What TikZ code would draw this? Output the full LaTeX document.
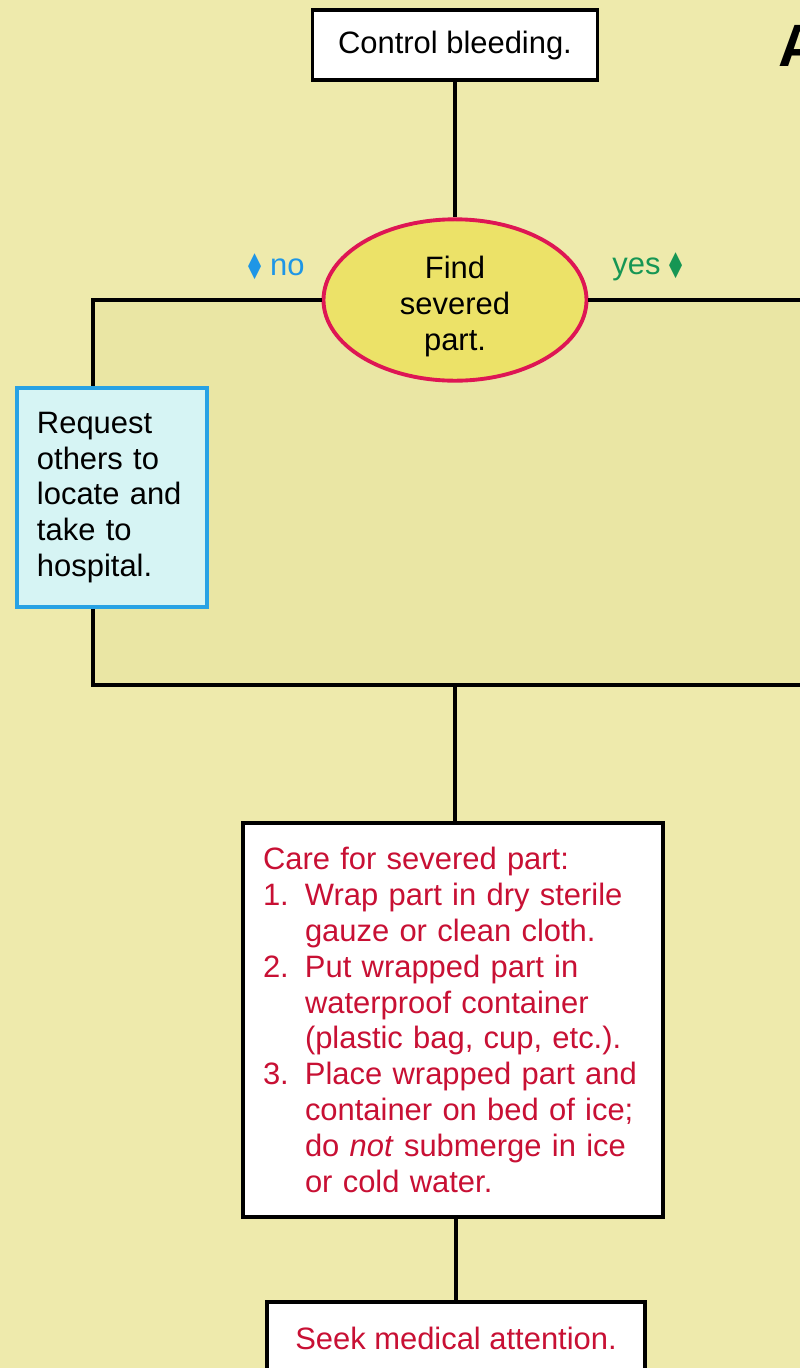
\documentclass[tikz,border=0pt]{standalone}
\usepackage{fontspec}
\setmainfont{Liberation Sans}
\newfontfamily\symfont{DejaVu Sans}
\usetikzlibrary{positioning,shapes.geometric}

\definecolor{bgyellow}{RGB}{238,234,172}
\definecolor{panelyellow}{RGB}{234,230,164}
\definecolor{findfill}{RGB}{236,226,104}
\definecolor{findline}{RGB}{222,22,84}
\definecolor{reqline}{RGB}{40,162,228}
\definecolor{reqfill}{RGB}{214,244,244}
\definecolor{caretext}{RGB}{200,16,52}
\definecolor{noblue}{RGB}{30,150,230}
\definecolor{yesgreen}{RGB}{22,150,84}

\begin{document}
\begin{tikzpicture}[
        font=\fontsize{8.8}{10.2}\selectfont,
        stepbox/.style={draw, rectangle, line width=1.1pt, fill=white, inner sep=0pt, align=center},
        decision/.style={draw=findline, ellipse, line width=1.1pt, fill=findfill, minimum width=2.63cm, minimum height=1.6cm, inner sep=0pt, align=center},
        link/.style={line width=1pt}
    ]
        \useasboundingbox (0,0) rectangle (8,-13.68);
        \clip (0,0) rectangle (8,-13.68);
        \fill[bgyellow] (0,0) rectangle (8,-13.68);

        % Search panel
        \fill[panelyellow] (0.93,-3.0) rectangle (8,-6.85);
        \coordinate (cornerL) at (0.93,-3.0);
        \coordinate (exitR) at (8,-3.0);
        \coordinate (joinL) at (0.93,-6.85);
        \coordinate (joinR) at (8,-6.85);
        \coordinate (merge) at (4.55,-6.85);

        % Steps
        \node[stepbox, minimum width=2.85cm, minimum height=0.7cm] (bleed) at (4.55,-0.45) {Control bleeding.};
        \node[decision] (find) at (4.55,-3.0) {\rule{0pt}{3.6mm}Find\\severed\\part.};
        \node[stepbox, draw=reqline, fill=reqfill, minimum width=1.9cm, minimum height=2.19cm, text width=1.5cm, align=left] (request) at (1.12,-4.975) {Request others to locate and take to hospital.};
        \node[stepbox, minimum width=4.2cm, minimum height=3.94cm, text width=3.8cm, align=left, text=caretext] (care) at (4.53,-10.2) {Care for severed part:\\
            \makebox[0.42cm][l]{1.}Wrap part in dry sterile\\
            \hspace*{0.42cm}gauze or clean cloth.\\
            \makebox[0.42cm][l]{2.}Put wrapped part in\\
            \hspace*{0.42cm}waterproof container\\
            \hspace*{0.42cm}(plastic bag, cup, etc.).\\
            \makebox[0.42cm][l]{3.}Place wrapped part and\\
            \hspace*{0.42cm}container on bed of ice;\\
            \hspace*{0.42cm}do \textit{not} submerge in ice\\
            \hspace*{0.42cm}or cold water.};
        \node[stepbox, minimum width=3.78cm, anchor=north, text=caretext, text height=0.48cm, text depth=0.6cm] (seek) at (4.56,-13.0) {Seek medical attention.};

        % Branch labels
        \node[text=noblue, anchor=east] (nolbl) at (3.17,-2.67) {{\symfont\scalebox{0.55}[1.1]{◆}} no};
        \node[text=yesgreen, anchor=west] (yeslbl) at (6.0,-2.67) {yes {\symfont\scalebox{0.55}[1.1]{◆}}};

        % Title, cut at the edge
        \node[anchor=west, font=\fontsize{17}{17}\selectfont\bfseries] (title) at (7.66,-0.46) {A};

        % Connectors
        \draw[link] (bleed) -- (find);
        \draw[link] (find.west) -- (cornerL) -- (cornerL |- request.north);
        \draw[link] (find.east) -- (exitR);
        \draw[link] (joinL |- request.south) -- (joinL) -- (joinR);
        \draw[link] (merge) -- (merge |- care.north);
        \draw[link] (care.south -| seek.north) -- (seek.north);
    \end{tikzpicture}
\end{document}
